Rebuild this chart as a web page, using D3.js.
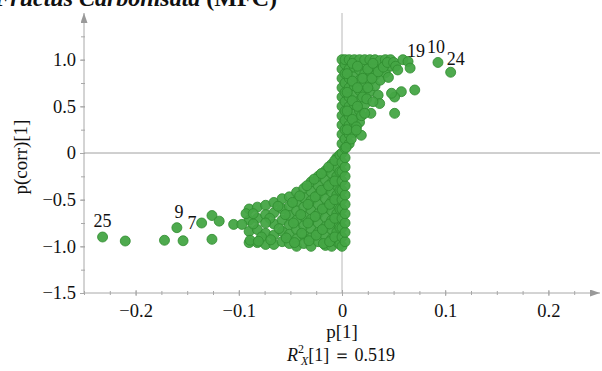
<!DOCTYPE html>
<html>
<head>
<meta charset="utf-8">
<script src="https://cdn.jsdelivr.net/npm/d3@7"></script>
<style>
  body { margin: 0; background: #fff; }
  svg { display: block; }
  svg text { font-family: "Liberation Serif", "Times New Roman", serif; }
</style>
</head>
<body>
<svg id="chart" width="602" height="371"></svg>
<script>
// tick labels
const xTicks = [-0.2, -0.1, 0, 0.1, 0.2];
const yTicks = [-1.5, -1.0, -0.5, 0, 0.5, 1.0];

// scattered points away from the main mass
const leftOutliers = [
  [-0.232, -0.90], [-0.210, -0.943], [-0.172, -0.935], [-0.160, -0.80], [-0.154, -0.94],
  [-0.136, -0.75], [-0.126, -0.67], [-0.119, -0.73], [-0.126, -0.925], [-0.105, -0.765],
  [-0.097, -0.765], [-0.093, -0.65], [-0.086, -0.65], [-0.089, -0.935], [-0.081, -0.945],
  [-0.074, -0.75]
];
const rightOutliers = [
  [0.059, 1.0], [0.064, 0.98], [0.066, 0.91], [0.054, 0.89], [0.045, 0.81],
  [0.0705, 0.675], [0.0575, 0.657], [0.051, 0.60], [0.048, 0.64], [0.035, 0.62],
  [0.0365, 0.53], [0.030, 0.55], [0.028, 0.425], [0.022, 0.425], [0.051, 0.425],
  [0.0187, 0.19], [0.0139, 0.246], [0.093, 0.97], [0.1053, 0.865]
];

// dense lower-left mass
const leftMass = [
  [-0.090, -0.60], [-0.090, -0.72], [-0.090, -0.84], [-0.090, -0.96],
  [-0.082, -0.58], [-0.082, -0.70], [-0.082, -0.82], [-0.082, -0.96],
  [-0.074, -0.56], [-0.074, -0.66], [-0.074, -0.86], [-0.074, -0.98],
  [-0.066, -0.53], [-0.066, -0.64], [-0.066, -0.76], [-0.066, -0.88], [-0.066, -0.98],
  [-0.058, -0.49], [-0.058, -0.60], [-0.058, -0.72], [-0.058, -0.84], [-0.058, -0.95],
  [-0.051, -0.47], [-0.051, -0.57], [-0.051, -0.67], [-0.051, -0.77], [-0.051, -0.87], [-0.051, -0.97],
  [-0.044, -0.42], [-0.044, -0.52], [-0.044, -0.62], [-0.044, -0.72], [-0.044, -0.82], [-0.044, -0.92], [-0.044, -1.0],
  [-0.037, -0.38], [-0.037, -0.48], [-0.037, -0.58], [-0.037, -0.68], [-0.037, -0.78], [-0.037, -0.88], [-0.037, -0.97],
  [-0.030, -0.31], [-0.030, -0.41], [-0.030, -0.51], [-0.030, -0.61], [-0.030, -0.71], [-0.030, -0.81], [-0.030, -0.91], [-0.030, -1.0],
  [-0.023, -0.25], [-0.023, -0.35], [-0.023, -0.45], [-0.023, -0.55], [-0.023, -0.65], [-0.023, -0.75], [-0.023, -0.85], [-0.023, -0.95],
  [-0.016, -0.19], [-0.016, -0.29], [-0.016, -0.39], [-0.016, -0.49], [-0.016, -0.59], [-0.016, -0.69], [-0.016, -0.79], [-0.016, -0.89], [-0.016, -0.99],
  [-0.010, -0.12], [-0.010, -0.22], [-0.010, -0.32], [-0.010, -0.42], [-0.010, -0.52], [-0.010, -0.62], [-0.010, -0.72], [-0.010, -0.82], [-0.010, -0.92], [-0.010, -1.0],
  [-0.005, -0.05], [-0.005, -0.15], [-0.005, -0.25], [-0.005, -0.35], [-0.005, -0.45], [-0.005, -0.55], [-0.005, -0.65], [-0.005, -0.75], [-0.005, -0.85], [-0.005, -0.95]
];
// irregular points lying over the lower-left mass
const leftMassExtra = [
  [-0.086, -0.76], [-0.078, -0.90], [-0.070, -0.70], [-0.069, -0.93], [-0.062, -0.57], [-0.061, -0.81],
  [-0.055, -0.66], [-0.054, -0.91], [-0.048, -0.53], [-0.047, -0.75], [-0.046, -0.96], [-0.041, -0.46],
  [-0.040, -0.66], [-0.039, -0.86], [-0.034, -0.35], [-0.033, -0.55], [-0.033, -0.75], [-0.032, -0.94],
  [-0.027, -0.28], [-0.026, -0.47], [-0.026, -0.68], [-0.025, -0.88], [-0.020, -0.22], [-0.020, -0.40],
  [-0.019, -0.60], [-0.019, -0.82], [-0.018, -0.97], [-0.013, -0.15], [-0.013, -0.35], [-0.012, -0.55],
  [-0.012, -0.76], [-0.012, -0.95], [-0.007, -0.08], [-0.007, -0.30], [-0.007, -0.50], [-0.007, -0.70],
  [-0.007, -0.90], [-0.002, -0.02], [-0.002, -0.20], [-0.002, -0.40], [-0.002, -0.60], [-0.002, -0.80],
  [-0.002, -0.98]
];

// vertical column at p[1] ~ 0
const column = [
  [0, -1.0], [0, -0.9], [0, -0.8], [0, -0.7], [0, -0.6], [0, -0.5], [0, -0.4], [0, -0.3], [0, -0.2], [0, -0.1], [0, 0],
  [0, 0.1], [0, 0.2], [0, 0.3], [0, 0.4], [0, 0.5], [0, 0.6], [0, 0.7], [0, 0.8], [0, 0.9], [0, 1.0],
  [0.003, -0.95], [0.003, -0.85], [0.003, -0.75], [0.003, -0.65], [0.003, -0.55], [0.003, -0.45], [0.003, -0.35],
  [0.003, -0.25], [0.003, -0.15], [0.003, -0.05], [0.003, 0.05], [0.003, 0.15], [0.003, 0.25], [0.003, 0.35],
  [0.003, 0.45], [0.003, 0.55], [0.003, 0.65], [0.003, 0.75], [0.003, 0.85], [0.003, 0.95], [0.003, 1.0]
];

// dense upper-right mass
const rightMass = [
  [0.007, 0.10], [0.007, 0.20], [0.007, 0.30], [0.007, 0.40], [0.007, 0.50], [0.007, 0.60], [0.007, 0.70], [0.007, 0.80], [0.007, 0.90], [0.007, 1.0],
  [0.012, 0.22], [0.012, 0.32], [0.012, 0.42], [0.012, 0.52], [0.012, 0.62], [0.012, 0.72], [0.012, 0.82], [0.012, 0.92], [0.012, 1.0],
  [0.017, 0.33], [0.017, 0.45], [0.017, 0.56], [0.017, 0.67], [0.017, 0.78], [0.017, 0.89], [0.017, 1.0],
  [0.022, 0.52], [0.022, 0.63], [0.022, 0.74], [0.022, 0.85], [0.022, 0.95], [0.022, 1.0],
  [0.027, 0.66], [0.027, 0.77], [0.027, 0.88], [0.027, 1.0],
  [0.032, 0.72], [0.032, 0.83], [0.032, 0.93], [0.032, 1.0],
  [0.037, 0.78], [0.037, 0.90], [0.037, 0.99],
  [0.042, 0.86], [0.042, 0.95], [0.042, 1.0],
  [0.047, 0.93], [0.047, 1.0]
];
const rightMassExtra = [
  [0.004, 0.06], [0.005, 0.25], [0.005, 0.45], [0.005, 0.65], [0.005, 0.85], [0.009, 0.15], [0.010, 0.36],
  [0.010, 0.56], [0.010, 0.77], [0.010, 0.96], [0.014, 0.28], [0.015, 0.50], [0.015, 0.70], [0.015, 0.93],
  [0.019, 0.40], [0.020, 0.60], [0.020, 0.80], [0.024, 0.58], [0.025, 0.70], [0.025, 0.90], [0.029, 0.80],
  [0.030, 0.96], [0.035, 0.87], [0.040, 0.92], [0.044, 0.97], [0.050, 0.97], [0.052, 0.93]
];

const pointLabels = [
  { text: "25", x: -0.232, y: -0.90 },
  { text: "9", x: -0.160, y: -0.80 },
  { text: "7", x: -0.154, y: -0.94 },
  { text: "19", x: 0.059, y: 1.0 },
  { text: "10", x: 0.093, y: 0.97 },
  { text: "24", x: 0.1053, y: 0.865 }
];
// pixel nudges for the labels, as placed in the figure
const labelNudge = { "25": [0, -10], "9": [2, -10], "7": [9, -12], "19": [13, -3], "10": [-2, -9], "24": [5, -7] };

const svg = d3.select("#chart");
const x = d3.scaleLinear().domain([-0.25, 0.25]).range([84, 600]);
const y = d3.scaleLinear().domain([-1.5, 1.5]).range([293, 13]);
const axisColor = "#a8a8a8";
const fmt = d => d === 0 ? "0" : d3.format(".1f")(d);

svg.append("defs").append("marker")
    .attr("id", "arrow")
    .attr("viewBox", "0 0 10 7")
    .attr("refX", 10).attr("refY", 3.5)
    .attr("markerWidth", 10).attr("markerHeight", 7)
    .attr("markerUnits", "userSpaceOnUse")
    .attr("orient", "auto")
  .append("path")
    .attr("d", "M0,0L10,3.5L0,7z")
    .attr("fill", "#999");

// zero reference lines
svg.append("line")
    .attr("x1", x(-0.25)).attr("x2", x(0.25))
    .attr("y1", y(0)).attr("y2", y(0))
    .attr("stroke", "#a0a0a0");
svg.append("line")
    .attr("x1", x(0)).attr("x2", x(0))
    .attr("y1", y(1.5)).attr("y2", y(-1.5))
    .attr("stroke", "#b8b8b8");

// axis lines with arrows
svg.append("line")
    .attr("x1", x(-0.25)).attr("x2", x(0.25))
    .attr("y1", y(-1.5)).attr("y2", y(-1.5))
    .attr("stroke", axisColor)
    .attr("marker-end", "url(#arrow)");
svg.append("line")
    .attr("x1", x(-0.25)).attr("x2", x(-0.25))
    .attr("y1", y(-1.5)).attr("y2", y(1.5))
    .attr("stroke", axisColor)
    .attr("marker-end", "url(#arrow)");

// minor + major tick marks
const xMinor = d3.range(-0.25, 0.24, 0.025);
const yMinor = d3.range(-1.5, 1.3, 0.25);

svg.append("g")
    .attr("transform", `translate(0,${y(-1.5)})`)
    .call(d3.axisBottom(x).tickValues(xMinor).tickSize(2).tickFormat(""))
    .call(g => g.select(".domain").remove())
    .call(g => g.selectAll(".tick line").attr("y1", -2).attr("y2", 2).attr("stroke", axisColor));
svg.append("g")
    .attr("transform", `translate(0,${y(-1.5)})`)
    .call(d3.axisBottom(x).tickValues(xTicks).tickSize(0).tickPadding(11).tickFormat(fmt))
    .attr("font-family", null)
    .attr("font-size", 18.5)
    .call(g => g.select(".domain").remove())
    .call(g => g.selectAll(".tick line").attr("y1", -3).attr("y2", 3).attr("stroke", axisColor))
    .call(g => g.selectAll(".tick text").attr("fill", "#111"));

svg.append("g")
    .attr("transform", `translate(${x(-0.25)},0)`)
    .call(d3.axisLeft(y).tickValues(yMinor).tickSize(3).tickFormat(""))
    .call(g => g.select(".domain").remove())
    .call(g => g.selectAll(".tick line").attr("x1", 1).attr("x2", -3).attr("stroke", axisColor));
svg.append("g")
    .attr("transform", `translate(${x(-0.25)},0)`)
    .call(d3.axisLeft(y).tickValues(yTicks).tickSize(0).tickPadding(8).tickFormat(fmt))
    .attr("font-family", null)
    .attr("font-size", 18.5)
    .call(g => g.select(".domain").remove())
    .call(g => g.selectAll(".tick line").attr("x1", 1).attr("x2", -4).attr("stroke", axisColor))
    .call(g => g.selectAll(".tick text").attr("fill", "#111"));

// points
const allPoints = [].concat(leftMass, leftMassExtra, column, rightMass, rightMassExtra, leftOutliers, rightOutliers);
svg.append("g")
  .selectAll("circle")
  .data(allPoints)
  .join("circle")
    .attr("cx", d => x(d[0]))
    .attr("cy", d => y(d[1]))
    .attr("r", 5)
    .attr("fill", "#45a545")
    .attr("stroke", "#2f8c2f")
    .attr("stroke-width", 0.8)
    .attr("fill-opacity", 0.95);

// point labels
svg.append("g")
  .selectAll("text")
  .data(pointLabels)
  .join("text")
    .attr("x", d => x(d.x) + labelNudge[d.text][0])
    .attr("y", d => y(d.y) + labelNudge[d.text][1])
    .attr("text-anchor", "middle")
    .attr("font-size", 18)
    .attr("fill", "#111")
    .text(d => d.text);

// titles
svg.append("text")
    .attr("x", 277).attr("y", 6)
    .attr("text-anchor", "end")
    .attr("font-size", 24)
    .attr("font-weight", "bold")
    .attr("fill", "#111")
    .call(t => t.append("tspan").attr("font-style", "italic").text("Fructus Carbonisata "))
    .call(t => t.append("tspan").text("(MFC)"));

svg.append("text")
    .attr("transform", "translate(27,157) rotate(-90)")
    .attr("text-anchor", "middle")
    .attr("font-size", 19)
    .attr("fill", "#111")
    .text("p(corr)[1]");

svg.append("text")
    .attr("x", x(0)).attr("y", 338)
    .attr("text-anchor", "middle")
    .attr("font-size", 19)
    .attr("fill", "#111")
    .text("p[1]");

svg.append("text")
    .attr("x", 341).attr("y", 361)
    .attr("text-anchor", "middle")
    .attr("font-size", 18)
    .attr("fill", "#111")
    .call(t => t.append("tspan").attr("font-style", "italic").text("R"))
    .call(t => t.append("tspan").attr("font-size", 12).attr("dy", -8).text("2"))
    .call(t => t.append("tspan").attr("font-size", 12).attr("font-style", "italic").attr("dx", -3).attr("dy", 12).text("X"))
    .call(t => t.append("tspan").attr("dy", -4).text("[1]\u2009\uFF1D\u20090.519"));
</script>
</body>
</html>
